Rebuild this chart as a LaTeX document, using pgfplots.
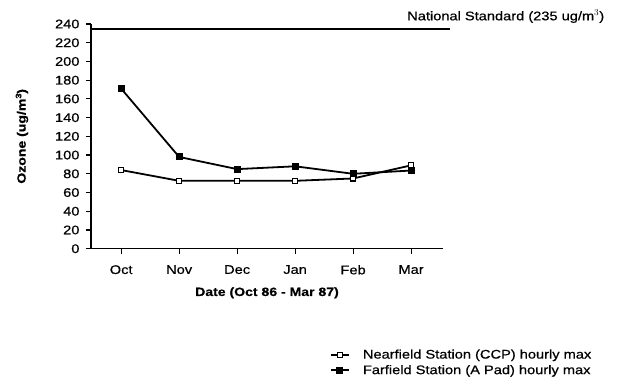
\documentclass[border=0pt]{standalone}
\usepackage{pgfplots}
\pgfplotsset{compat=1.18}
\usepackage{fontspec}
\setmainfont{Liberation Sans}[FakeStretch=1.17, FakeBold=0.6]
\begin{document}
\begin{tikzpicture}[x=1pt,y=1pt]
\useasboundingbox (-91,-136.3) rectangle (528,248.7);
\begin{axis}[
  at={(0,0)}, anchor=south west,
  scale only axis, width=352pt, height=224.7pt,
  xmin=-0.52, xmax=5.55, ymin=0, ymax=240,
  axis lines*=left,
  axis line style={line width=1.4pt},
  every tick/.style={line width=1.2pt, black},
  tick align=outside, major tick length=5pt,
  xtick={0,1,2,3,4,5},
  xticklabels={Oct,Nov,Dec,Jan,Feb,Mar},
  ytick={0,20,...,240},
  minor tick num=0,
  clip=false,
  /pgf/number format/assume math mode=true,
  tick label style={font=\fontsize{12.5}{14}\selectfont},
  yticklabel style={xshift=-3pt},
  xticklabel style={yshift=-8pt},
  xlabel={\textbf{Date (Oct 86 - Mar 87)}},
  ylabel={\textbf{Ozone (ug/m$^{\mathbf 3}$)}},
  label style={font=\fontsize{12}{14}\selectfont},
  xlabel style={yshift=-6pt},
  ylabel style={yshift=20pt},
  legend style={draw=none, fill=none, at={(0.67,-0.43)}, anchor=north west,
    font=\fontsize{12.5}{15}\selectfont, row sep=1pt},
  legend cell align=left,
  legend image code/.code={
    \draw[#1, line width=1.8pt] (0pt,0pt) -- (18pt,0pt);
    \draw[#1, mark repeat=1] plot coordinates {(9pt,0pt)};
    \path[draw=none, fill=none] (0pt,0pt) -- (30pt,0pt);
  },
]
\addplot[black, line width=1.8pt, mark=square*, mark options={fill=white, line width=1.2pt, scale=1.3}]
  coordinates {(0,84) (1,72.5) (2,72.5) (3,72.5) (4,75) (5,89)};
\addlegendentry{Nearfield Station (CCP) hourly max}
\addplot[black, line width=1.8pt, mark=square*, mark options={fill=black, scale=1.3}]
  coordinates {(0,171) (1,98) (2,85) (3,88) (4,80) (5,83.5)};
\addlegendentry{Farfield Station (A Pad) hourly max}
\addplot[black, line width=1.8pt, forget plot] coordinates {(-0.52,235) (5.67,235)};
\node[anchor=west, font=\fontsize{12.5}{14}\selectfont, inner sep=0pt] at (axis cs:4.93,248) {National Standard (235 ug/m$^{3}$)};
\end{axis}
\end{tikzpicture}
\end{document}
